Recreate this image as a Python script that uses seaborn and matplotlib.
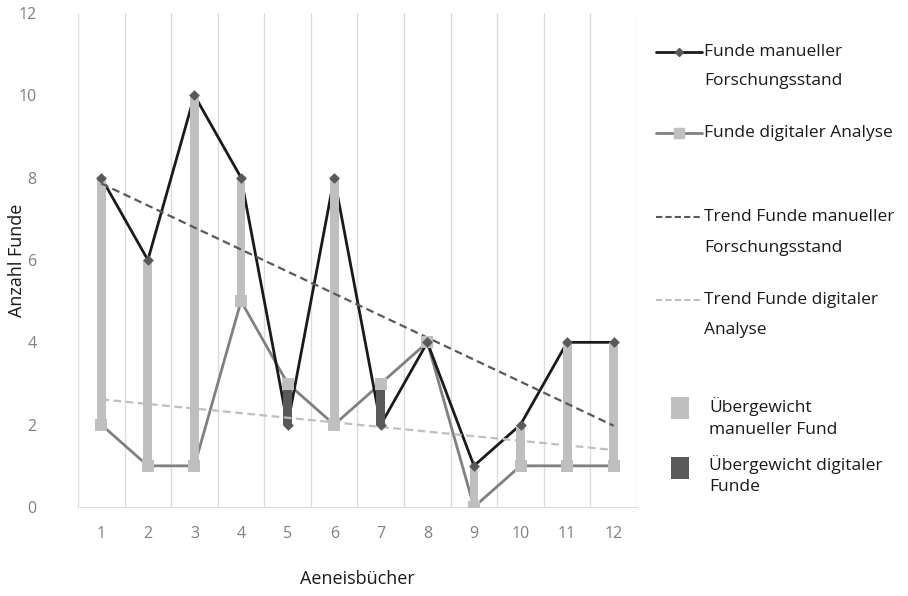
import numpy as np
import pandas as pd
import matplotlib
matplotlib.use("Agg")
import matplotlib.pyplot as plt
from matplotlib.lines import Line2D
import matplotlib.patches as patches
import seaborn as sns

# --- Data ---
books = list(range(1, 13))
funde_manuell = [8, 6, 10, 8, 2, 8, 2, 4, 1, 2, 4, 4]
funde_digital = [2, 1, 1, 5, 3, 2, 3, 4, 0, 1, 1, 1]
y_ticks = [0, 2, 4, 6, 8, 10, 12]

df = pd.DataFrame({"buch": books, "manuell": funde_manuell, "digital": funde_digital})

BLACK = "#1a1a1a"
DARK = "#595959"
MID = "#808080"
LIGHT = "#bfbfbf"
GRID = "#dcdcdc"

sns.set_style("white")
plt.rcParams["font.family"] = ["Open Sans", "DejaVu Sans"]

W, H = 908, 596
fig = plt.figure(figsize=(W / 100, H / 100), dpi=100)
ax = fig.add_axes([78 / W, 1 - 507 / H, (637 - 78) / W, (507 - 13) / H])

# Up/down bars between the two series
diff = df["manuell"] - df["digital"]
bar_colors = [LIGHT if d >= 0 else DARK for d in diff]
ax.bar(df["buch"], diff.abs(), bottom=df[["manuell", "digital"]].min(axis=1),
       width=0.19, color=bar_colors, zorder=3, linewidth=0)

# Series lines
sns.lineplot(data=df, x="buch", y="digital", color=MID, lw=2, ax=ax, zorder=2)
sns.lineplot(data=df, x="buch", y="manuell", color=BLACK, lw=2, ax=ax, zorder=2)

# Markers on top
ax.scatter(df["buch"], df["digital"], marker="s", s=70, color=LIGHT, zorder=4, linewidths=0)
ax.scatter(df["buch"], df["manuell"], marker="D", s=30, color=DARK, zorder=5, linewidths=0)

# Linear trend lines
xs = np.array([books[0], books[-1]])
for series, col in [(funde_manuell, DARK), (funde_digital, LIGHT)]:
    m, b = np.polyfit(books, series, 1)
    ax.plot(xs, m * xs + b, ls=(0, (3.5, 2)), color=col, lw=1.6, zorder=3.5)

# Axes formatting
ax.set_xlim(0.5, 12.5)
ax.set_ylim(0, 12)
ax.set_xticks(books)
ax.set_yticks(y_ticks)
for xb in np.arange(0.5, 13, 1):
    ax.axvline(xb, color=GRID, lw=1, zorder=0)
for s in ["top", "right", "left"]:
    ax.spines[s].set_visible(False)
ax.spines["bottom"].set_color(GRID)
ax.tick_params(axis="both", length=0, labelsize=11.5, labelcolor=MID)
ax.tick_params(axis="x", pad=14)
ax.tick_params(axis="y", pad=30)
ax.set_xlabel("Aeneisbücher", fontsize=13, color=BLACK, labelpad=20)
ax.set_ylabel("Anzahl Funde", fontsize=13, color=BLACK)
ax.yaxis.set_label_coords(-52 / (637 - 78), 0.5)
ax.set_facecolor("white")

# --- Legend (drawn by hand to match the spacing) ---
def fx(px):
    return px / W

def fy(py):
    return 1 - py / H

def leg_line(py, color, ls="-", marker=None, ms=5, mcol=None):
    fig.add_artist(Line2D([fx(656), fx(702)], [fy(py), fy(py)], color=color,
                          lw=2 if ls == "-" else 1.5, ls=ls, transform=fig.transFigure))
    if marker:
        fig.add_artist(Line2D([fx(679)], [fy(py)], marker=marker, ms=ms, color=mcol, lw=0,
                              transform=fig.transFigure))

def leg_text(px, py, s):
    fig.text(fx(px), fy(py), s, fontsize=12.5, color=BLACK, va="center", ha="left")

leg_line(52, BLACK, marker="D", ms=4, mcol=DARK)
leg_text(704, 52, "Funde manueller")
leg_text(704, 81, "Forschungsstand")
leg_line(133, MID, marker="s", ms=7, mcol=LIGHT)
leg_text(704, 133, "Funde digitaler Analyse")
leg_line(217, DARK, ls=(0, (3, 1.5)))
leg_text(704, 217, "Trend Funde manueller")
leg_text(704, 248, "Forschungsstand")
leg_line(300, LIGHT, ls=(0, (3, 1.5)))
leg_text(704, 300, "Trend Funde digitaler")
leg_text(704, 330, "Analyse")

for py, col in [(408, LIGHT), (468, DARK)]:
    fig.add_artist(patches.Rectangle((fx(671), fy(py + 11)), 18 / W, 22 / H, color=col,
                                     transform=fig.transFigure, lw=0))
leg_text(709, 407, "Übergewicht")
leg_text(709, 430, "manueller Fund")
leg_text(709, 465, "Übergewicht digitaler")
leg_text(709, 487, "Funde")

fig.savefig("out.png", dpi=100, facecolor="white")
